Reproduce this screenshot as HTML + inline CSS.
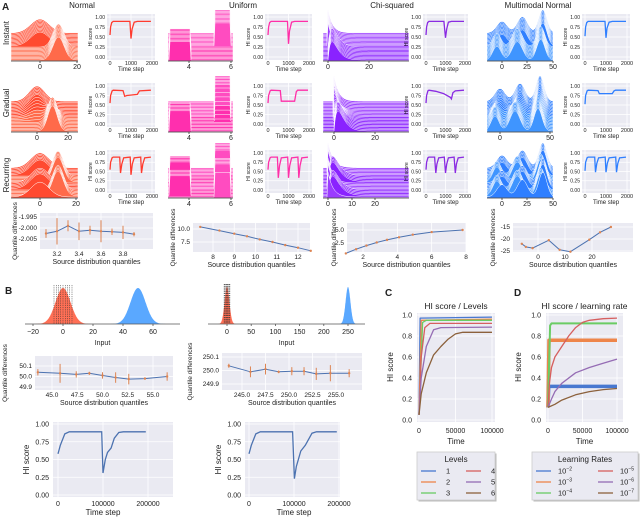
<!DOCTYPE html>
<html><head><meta charset="utf-8"><style>
html,body{margin:0;padding:0;background:#fff;}
svg{display:block;font-family:"Liberation Sans",sans-serif;}
</style></head><body>
<svg id="fig" width="640" height="517" viewBox="0 0 640 517" xmlns="http://www.w3.org/2000/svg"></svg>
<script>
// ---------- DATA ----------
const distNames=['Normal','Uniform','Chi-squared','Multimodal Normal'];
const rowNames=['Instant','Gradual','Recurring'];
const hiNormal=[
 [[0,.55],[30,.75],[80,.86],[150,.89],[950,.89],[1000,.46],[1050,.7],[1150,.87],[1300,.89],[1950,.89]],
 [[0,.55],[30,.75],[100,.87],[150,.89],[620,.88],[700,.73],[800,.75],[1300,.78],[1400,.87],[1950,.89]],
 [[0,.55],[30,.75],[100,.87],[150,.89],[460,.89],[500,.46],[560,.7],[650,.87],[960,.89],[1000,.41],[1060,.7],[1150,.87],[1460,.89],[1500,.46],[1560,.7],[1650,.87],[1950,.89]]];
const hiUniform=[
 [[0,.55],[30,.75],[80,.86],[150,.89],[950,.89],[1000,.33],[1050,.65],[1150,.87],[1300,.89],[1950,.89]],
 [[0,.55],[30,.75],[100,.87],[150,.89],[600,.88],[650,.6],[1300,.6],[1380,.85],[1450,.89],[1950,.89]],
 [[0,.55],[30,.75],[100,.87],[150,.89],[460,.89],[500,.33],[560,.65],[650,.87],[960,.89],[1000,.33],[1060,.65],[1150,.87],[1460,.89],[1500,.33],[1560,.65],[1650,.87],[1950,.89]]];
const hiChi=[
 [[0,.55],[30,.75],[80,.86],[150,.89],[920,.89],[1000,.48],[1060,.7],[1150,.87],[1300,.89],[1950,.89]],
 [[0,.55],[30,.75],[100,.87],[150,.89],[500,.86],[900,.8],[1250,.7],[1300,.66],[1380,.82],[1500,.87],[1950,.89]],
 [[0,.55],[30,.75],[100,.87],[150,.89],[440,.89],[500,.46],[560,.7],[650,.87],[940,.89],[1000,.46],[1060,.7],[1150,.87],[1440,.89],[1500,.46],[1560,.7],[1650,.87],[1950,.89]]];
const hiMulti=[
 [[0,.52],[30,.75],[80,.86],[150,.89],[950,.89],[1000,.48],[1050,.72],[1150,.87],[1300,.89],[1950,.89]],
 [[0,.52],[30,.75],[100,.87],[150,.89],[620,.88],[680,.8],[1300,.8],[1380,.87],[1450,.89],[1950,.89]],
 [[0,.52],[30,.75],[100,.87],[150,.89],[460,.89],[500,.48],[560,.72],[650,.87],[960,.89],[1000,.48],[1060,.72],[1150,.87],[1460,.89],[1500,.48],[1560,.72],[1650,.87],[1950,.89]]];
const hiTicksY=[0,.25,.5,.75,1];
const hiTicksX=[0,1000,2000];

const qNormX=[3.1,3.2,3.3,3.4,3.5,3.6,3.7,3.8,3.9];
const qNormY=[-2.0025,-2.0015,-1.999,-2.0015,-2.001,-2.0015,-2.0017,-2.002,-2.0028];
const qNormE=[.002,.006,.0025,.004,.002,.005,.0015,.003,.001];
const qUniX=[7.4,8.3,9.0,9.6,10.2,10.8,11.4,12.0,12.6];
const qUniY=[10.4,9.7,9.1,8.6,8.0,7.5,6.9,6.4,5.8];
const qChiX=[1.0,1.6,2.2,2.8,3.4,4.1,4.9,6.0,7.8];
const qChiY=[0.5,1.3,2.0,2.6,3.1,3.6,4.1,4.6,5.0];
const qMulX=[-6,-4.5,-2,4,8,12,19,23,27];
const qMulY=[-22,-23.3,-23.8,-20.5,-24.5,-25.3,-20.3,-17.2,-15];

const bQ1X=[43.6,45.8,47.4,48.7,50.0,51.3,52.6,54.2,56.4];
const bQ1Y=[50.04,50.03,50.02,50.03,50.01,49.99,49.975,49.98,50.0];
const bQ1E=[.03,.09,.03,.015,.03,.05,.05,.01,.04];
const bQ2X=[243.6,245.9,247.5,248.9,250.3,251.6,252.9,254.4,256.4];
const bQ2Y=[250.035,249.99,250.01,249.99,249.995,249.995,249.975,249.98,249.98];
const bQ2E=[.015,.04,.04,.01,.03,.03,.045,.06,.03];
const bHi1=[[0,.58],[5000,.7],[15000,.86],[25000,.89],[97000,.89],[100000,.31],[105000,.5],[110000,.6],[118000,.66],[125000,.8],[135000,.88],[145000,.89],[195000,.89]];
const bHi2=[[0,.58],[5000,.7],[15000,.86],[25000,.89],[97000,.89],[101000,.23],[105000,.4],[115000,.62],[125000,.7],[140000,.87],[150000,.89],[195000,.89]];
const bHistMeans1=[0,50];
const bHistMeans2=[0,250];
const bHistSd=[5,5];
const bQuantLines1=[-6,-4.5,-3,-1.5,0,1.5,3,4.5,6];
const bQuantLines2=[-6,-4.5,-3,-1.5,0,1.5,3,4.5,6];

const levelNames=['1','2','3','4','5','6'];
const levelCurves=[
 [[0,.05],[1.5,.97],[100,.98]],
 [[0,.05],[3,.95],[100,.96]],
 [[0,.05],[5,.93],[10,.95],[100,.95]],
 [[0,.05],[3,.6],[8,.88],[15,.92],[100,.92]],
 [[0,.05],[3,.4],[10,.7],[20,.86],[30,.88],[100,.885]],
 [[0,.05],[3,.25],[10,.45],[20,.62],[30,.7],[40,.77],[50,.82],[60,.835],[100,.835]]];
const lrNames=['-2','-3','-4','-5','-6','-7'];
const lrCurves=[
 [[0,.12],[1,.32],[100,.32]],
 [[0,.12],[1.5,.76],[100,.76]],
 [[0,.12],[3,.9],[5,.92],[100,.92]],
 [[0,.12],[2,.35],[5,.5],[10,.6],[20,.7],[30,.8],[40,.88],[50,.93],[60,.95],[80,.965],[100,.97]],
 [[0,.12],[5,.2],[10,.27],[20,.35],[40,.45],[60,.5],[80,.54],[100,.58]],
 [[0,.12],[10,.15],[20,.19],[40,.24],[60,.27],[80,.29],[100,.3]]];
const lrNoise=[3.5,3.5,2,1.3,1.3,1.3];
const palette=['#4878d0','#ee854a','#6acc64','#d65f5f','#956cb4','#8c613c'];

// ---------- HELPERS ----------
const NS='http://www.w3.org/2000/svg';
const svg=document.getElementById('fig');
function el(tag,attrs,name,parent){
 const e=document.createElementNS(NS,tag);
 for(const k in attrs)e.setAttribute(k,attrs[k]);
 
 
 (parent||svg).appendChild(e);return e;}
function txt(x,y,s,size,name,anchor,rot,weight){
 const a={x:x,y:y,'font-size':size,'text-anchor':anchor||'middle',fill:'#222'};
 if(rot)a.transform='rotate(-90 '+x+' '+y+')';
 if(weight)a['font-weight']=weight;
 const t=el('text',a,name);t.textContent=s;return t;}
function lin(d0,d1,r0,r1){return v=>r0+(v-d0)*(r1-r0)/(d1-d0);}
function pathOf(pts,sx,sy){return pts.map((p,i)=>(i?'L':'M')+sx(p[0]).toFixed(1)+' '+sy(p[1]).toFixed(1)).join(' ');}
function bg(x0,y0,x1,y1,name){el('rect',{x:x0,y:y0,width:x1-x0,height:y1-y0,fill:'#eaeaf2'},name);}
function gridV(x,y0,y1){el('line',{x1:x,x2:x,y1:y0,y2:y1,stroke:'#fff','stroke-width':.8},'grid-line');}
function gridH(y,x0,x1){el('line',{x1:x0,x2:x1,y1:y,y2:y,stroke:'#fff','stroke-width':.8},'grid-line');}

// ---------- PANEL A ----------
const ridgeX0=[11,168,323,487],ridgeX1=[78,233,409,553];
const ridgeAxisY=[61,132,198],ridgeTopY=[10,76,143];
const ridgeTicks=[
 [[[0,40],[20,77]],[[0,37],[20,68]],[[0,40],[20,76]]],
 [[[4,189],[6,231]],[[4,189],[6,231]],[[4,189],[6,231]]],
 [[[0,328],[20,369]],[[0,334],[20,375]],[[0,328],[10,352],[20,375]]],
 [[[0,502],[25,527],[50,553]],[[0,500],[50,550]],[[0,502],[25,527],[50,553]]]];
const ridgeColors=[['#ff4a30','#ff6a4a'],['#ff4cc0','#ff2fae'],['#9b3cff','#8a22ff'],['#2f7fff','#3f95ff']];
function gauss(x,m,s){return Math.exp(-0.5*((x-m)/s)**2);}
const densA=[x=>0.6*gauss(x,0,5), x=>(x>5.2&&x<6.0)?1:0, x=>x>=0?Math.exp(-x/2.2):0,
 x=>0.5*gauss(x,0,5)+0.7*gauss(x,20,5)+1*gauss(x,40,4)];
const densB=[x=>gauss(x,10,3), x=>(x>3.05&&x<4.05)?0.8:0, x=>x>=0?(x/2)*Math.exp(1-x/2)*0.8:0,
 x=>0.6*gauss(x,-5,4)+0.8*gauss(x,15,5)+0.9*gauss(x,38,4)];
function stageW(r,f){
 if(r===0)return f<0.5?0:1;
 if(r===1)return f<0.3?0:(f>0.7?1:(f-0.3)/0.4);
 return Math.floor(f*4)%2;}
const N=22;
for(let c=0;c<4;c++)for(let r=0;r<3;r++){
 const tk=ridgeTicks[c][r];
 const inv=lin(tk[0][1],tk[tk.length-1][1],tk[0][0],tk[tk.length-1][0]);
 const x0=ridgeX0[c],x1=ridgeX1[c],ay=ridgeAxisY[r],ty=ridgeTopY[r];
 const H=ay-ty,hmax=H*0.45,sp=(H-hmax-1)/(N-1);
 const g=el('g',{},'ridge-plot-'+c+'-'+r);
 for(let i=0;i<N;i++){
  const w=stageW(r,i/(N-1));
  const base=ay-1-(N-1-i)*sp;
  let d='M'+x0+' '+ay;
  for(let px=x0;px<=x1;px+=1){
   const v=Math.min(1,(1-w)*densA[c](inv(px))+w*densB[c](inv(px)));
   d+=' L'+px+' '+(base-v*hmax).toFixed(1);}
  d+=' L'+x1+' '+ay+' Z';
  el('path',{d:d,fill:ridgeColors[c][w>0.5?1:0],stroke:'#fff','stroke-width':0.5},'ridge-layer',g);
 }
 el('line',{x1:x0,x2:x1,y1:ay,y2:ay,stroke:'#333','stroke-width':0.8},'ridge-x-axis');
 tk.forEach(t=>{el('line',{x1:t[1],x2:t[1],y1:ay,y2:ay+2,stroke:'#333','stroke-width':0.8},'tick-mark');
  txt(t[1],ay+8,String(t[0]),7,'ridge-tick-label');});
}

txt(2,10,'A',10,'panel-a-label','start',false,'bold');
const colTitleX=[82,243,392,538];
distNames.forEach((n,i)=>txt(colTitleX[i],8,n,8,'column-title-'+i));
const rowLabelY=[33,103,175];
rowNames.forEach((n,i)=>txt(9,rowLabelY[i],n,8,'row-label-'+n.toLowerCase(),'middle',true));

const hiBoxX0=[107,265,423,582],hiBoxX1=[155,312,468,630];
const hiBoxY0=[14,83,150],hiBoxY1=[60,127,193];
const hiAll=[hiNormal,hiUniform,hiChi,hiMulti];
const hiColors=['#ff3b2f','#ff2fa8','#8a2be2','#2f7fff'];
for(let c=0;c<4;c++)for(let r=0;r<3;r++){
 const x0=hiBoxX0[c],x1=hiBoxX1[c],y0=hiBoxY0[r],y1=hiBoxY1[r];
 bg(x0,y0,x1,y1,'hi-score-panel');
 const sx=lin(0,2000,x0+3,x1-3),sy=lin(0,1,y1-3,y0+3);
 hiTicksY.forEach(v=>{gridH(sy(v),x0,x1);txt(x0-2,sy(v)+1.8,v.toFixed(2),5,'y-tick-label','end');});
 hiTicksX.forEach(v=>{gridV(sx(v),y0,y1);txt(sx(v),y1+5,String(v),5.5,'x-tick-label');});
 txt(x0-15,(y0+y1)/2,'HI score',5,'y-axis-title','middle',true);
 txt((x0+x1)/2,y1+11,'Time step',6,'x-axis-title');
 el('path',{d:pathOf(hiAll[c][r],sx,sy),fill:'none',stroke:hiColors[c],'stroke-width':1.3},'hi-score-line');
}

function qPanel(box,xt,yt,xs,ys,es,xTickVals,yTickVals,yfmt,ylabX,name,fs){
 const [x0,y0,x1,y1]=box;
 bg(x0,y0,x1,y1,name);
 const sx=lin(xt[0][0],xt[1][0],xt[0][1],xt[1][1]),sy=lin(yt[0][0],yt[1][0],yt[0][1],yt[1][1]);
 xTickVals.forEach(v=>{gridV(sx(v),y0,y1);txt(sx(v),y1+7,yfmt[0](v),fs,'x-tick-label');});
 yTickVals.forEach(v=>{gridH(sy(v),x0,x1);txt(x0-3,sy(v)+2,yfmt[1](v),fs,'y-tick-label','end');});
 el('path',{d:pathOf(xs.map((x,i)=>[x,ys[i]]),sx,sy),fill:'none',stroke:'#4c72b0','stroke-width':1},'quantile-line');
 xs.forEach((x,i)=>{
  if(es)el('line',{x1:sx(x),x2:sx(x),y1:sy(ys[i]-es[i]),y2:sy(ys[i]+es[i]),stroke:'#dd8452','stroke-width':1},'error-bar');
  el('circle',{cx:sx(x),cy:sy(ys[i]),r:1.2,fill:'#dd8452'},'quantile-point');});
 txt((x0+x1)/2,y1+15,'Source distribution quantiles',7,'x-axis-title');
 txt(ylabX,(y0+y1)/2,'Quantile differences',6.5,'y-axis-title','middle',true);
}
const f1=v=>v.toFixed(1),f3=v=>v.toFixed(3),f0=v=>String(v);
qPanel([40,213,153,249],[[3.2,57],[3.8,123]],[[-1.995,217],[-2.005,239]],qNormX,qNormY,qNormE,[3.2,3.4,3.6,3.8],[-1.995,-2.0,-2.005],[f1,f3],17,'quantile-panel-normal',6.5);
qPanel([193,223,310,252],[[8,213],[12,298]],[[10,229],[7.5,242]],qUniX,qUniY,null,[8,9,10,11,12],[10,7.5],[f0,f1],175,'quantile-panel-uniform',6.5);
qPanel([347,223,466,252],[[2,363],[8,466]],[[5,230],[2.5,243]],qChiX,qChiY,null,[2,4,6,8],[5,2.5],[f0,f1],336,'quantile-panel-chi',6.5);
qPanel([513,223,633,252],[[0,538],[20,592]],[[-15,227],[-25,251]],qMulX,qMulY,null,[0,10,20],[-15,-20,-25],[f0,f0],495,'quantile-panel-multimodal',6.5);

// ---------- PANEL B ----------
txt(5,294,'B',10,'panel-b-label','start',false,'bold');
function hist(x0,x1,ay,top,sx,means,qlines,ticks){
 const cols=['#ff6f55','#5aa8ff'];
 means.forEach((m,k)=>{
  let d='M'+sx(m-4*bHistSd[k]).toFixed(1)+' '+ay;
  for(let v=m-4*bHistSd[k];v<=m+4*bHistSd[k];v+=0.25)d+=' L'+sx(v).toFixed(1)+' '+(ay-gauss(v,m,bHistSd[k])*(ay-top)).toFixed(1);
  d+=' L'+sx(m+4*bHistSd[k]).toFixed(1)+' '+ay+' Z';
  el('path',{d:d,fill:cols[k]},'histogram-'+k);});
 qlines.forEach(q=>el('line',{x1:sx(q),x2:sx(q),y1:top-3,y2:ay,stroke:'#333','stroke-width':.5,'stroke-dasharray':'1.2,1'},'quantile-marker'));
 el('line',{x1:x0,x2:x1,y1:ay,y2:ay,stroke:'#555','stroke-width':.8},'hist-x-axis');
 ticks.forEach(t=>{el('line',{x1:sx(t),x2:sx(t),y1:ay,y2:ay+2,stroke:'#555','stroke-width':.8},'tick-mark');
  txt(sx(t),ay+10,t<0?'\u2212'+(-t):String(t),7,'x-tick-label');});
 txt((x0+x1)/2,ay+21,'Input',7,'x-axis-title');
}
hist(25,180,324,288,lin(-20,60,33,153),bHistMeans1,bQuantLines1,[-20,0,20,40,60]);
hist(208,365,324,287,lin(0,250,227,348),bHistMeans2,bQuantLines2,[0,50,100,150,200,250]);
qPanel([35,356,173,390],[[45,52],[55,153]],[[50.1,366],[49.9,387]],bQ1X,bQ1Y,bQ1E,[45,47.5,50,52.5,55],[50.1,50.0,49.9],[f1,f1],7,'quantile-panel-b1',6.5);
qPanel([222,353,362,390],[[245,242],[255,336]],[[250.1,357],[249.9,384]],bQ2X,bQ2Y,bQ2E,[245,247.5,250,252.5,255],[250.1,250.0,249.9],[f1,f1],192,'quantile-panel-b2',6.5);
function bHi(x0,x1,sx,data,name){
 const y0=422,y1=497,sy=lin(0,1,495,424);
 bg(x0,y0,x1,y1,name);
 [0,.25,.5,.75,1].forEach(v=>{gridH(sy(v),x0,x1);txt(x0-4,sy(v)+2.5,v.toFixed(2),7,'y-tick-label','end');});
 [0,100000,200000].forEach(v=>{gridV(sx(v),y0,y1);txt(sx(v),506,String(v),7,'x-tick-label');});
 txt(x0-24,(y0+y1)/2,'HI score',8,'y-axis-title','middle',true);
 txt(sx(100000),515,'Time step',8,'x-axis-title');
 el('path',{d:pathOf(data,sx,sy),fill:'none',stroke:'#4c72b0','stroke-width':1.3},'hi-score-line');
}
bHi(53,173,lin(0,100000,58,103),bHi1,'hi-panel-b1');
bHi(245,340,lin(0,100000,249,294),bHi2,'hi-panel-b2');

// ---------- PANELS C & D ----------
function cdPanel(x0,x1,sx,curves,widths,title,label,labelX,ylabX){
 const y0=313,y1=422,sy=lin(0,1,420,315);
 txt(labelX,296,label,10,'panel-'+label.toLowerCase()+'-label','start',false,'bold');
 txt((x0+x1)/2,309,title,8.5,'panel-title');
 bg(x0,y0,x1,y1,'plot-area-'+label.toLowerCase());
 [0,.2,.4,.6,.8,1].forEach(v=>{gridH(sy(v),x0,x1);txt(x0-5,sy(v)+2.5,v.toFixed(1),7,'y-tick-label','end');});
 [0,50000,100000].forEach(v=>{gridV(sx(v/1000),y0,y1);txt(sx(v/1000),433,String(v),7,'x-tick-label');});
 txt((x0+x1)/2,444,'Time',8,'x-axis-title');
 txt(ylabX,367,'HI score',8,'y-axis-title','middle',true);
 curves.forEach((c,i)=>el('path',{d:pathOf(c,sx,sy),fill:'none',stroke:palette[i],'stroke-width':widths?widths[i]:1.3,'stroke-linejoin':'round'},'series-line-'+i));
}
cdPanel(417,495,lin(0,100,419,492),levelCurves,null,'HI score / Levels','C',385,393);
cdPanel(546,623,lin(0,100,548,617),lrCurves,lrNoise,'HI score / learning rate','D',514,521);

function legend(x0,x1,title,names,fmt,lx,name){
 el('rect',{x:x0+1.5,y:453.5,width:x1-x0,height:48,fill:'#bbb'},'legend-shadow');
 el('rect',{x:x0,y:452,width:x1-x0,height:48,fill:'#eaeaf2',stroke:'#ccc','stroke-width':.8},name);
 txt((x0+x1)/2,462,title,8,'legend-title');
 names.forEach((n,i)=>{
  const col=Math.floor(i/3),row=i%3,y=471+row*11;
  el('line',{x1:lx[col],x2:lx[col]+15,y1:y,y2:y,stroke:palette[i],'stroke-width':1.3},'legend-swatch');
  fmt(lx[col]+22,y+2.5,n);
 });
}
legend(417,495,'Levels',levelNames,(x,y,n)=>txt(x+3,y,n,7.5,'legend-entry','start'),[421,466],'levels-legend');
legend(532,638,'Learning Rates',lrNames,(x,y,n)=>{
 const t=el('text',{x:x,y:y,'font-size':7.5,fill:'#222'},'legend-entry');
 t.textContent='10';
 const s=el('tspan',{dy:-3,'font-size':5},'legend-exponent',t);s.textContent=n.replace('-','\u2212');
},[536,598],'learning-rates-legend');
</script>
</body></html>
